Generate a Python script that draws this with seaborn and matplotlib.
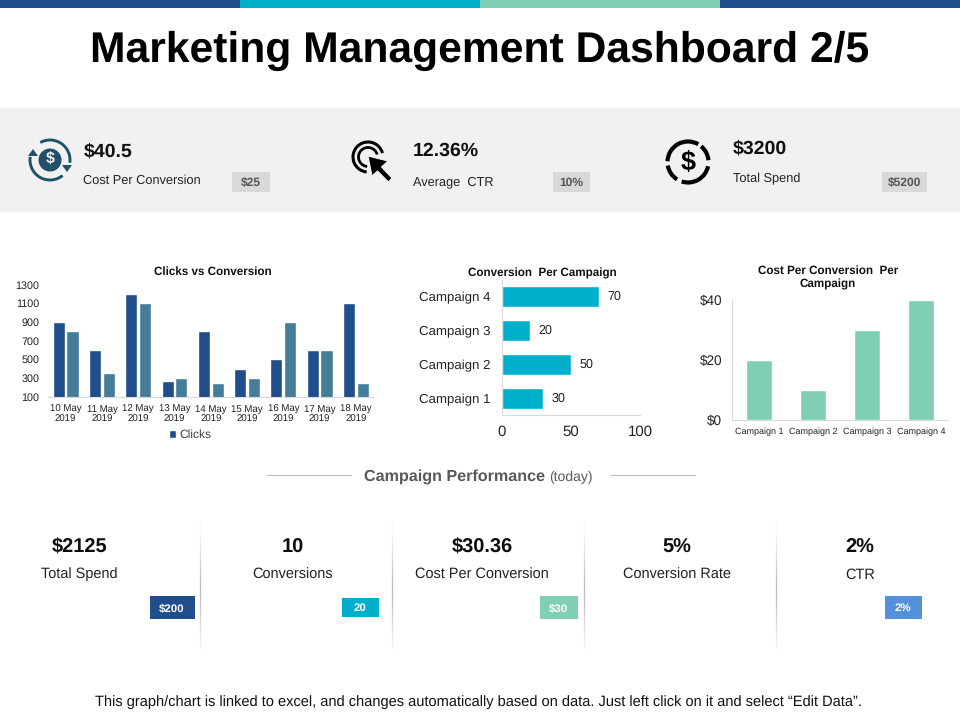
import matplotlib
matplotlib.use("Agg")
import matplotlib.pyplot as plt
import seaborn as sns
import pandas as pd
import numpy as np
from matplotlib.patches import Rectangle, Circle, Arc, Polygon
from matplotlib.collections import LineCollection

# ---------- data ----------
dates = ["10 May\n2019", "11 May\n2019", "12 May\n2019", "13 May\n2019", "14 May\n2019",
         "15 May\n2019", "16 May\n2019", "17 May\n2019", "18 May\n2019"]
clicks = [900, 600, 1200, 270, 800, 400, 500, 600, 1100]
conversions = [800, 350, 1100, 300, 250, 300, 900, 600, 250]
clicks_ticks = [100, 300, 500, 700, 900, 1100, 1300]

campaigns_h = ["Campaign 4", "Campaign 3", "Campaign 2", "Campaign 1"]
conversion_per_campaign = [70, 20, 50, 30]

campaigns_v = ["Campaign 1", "Campaign 2", "Campaign 3", "Campaign 4"]
cost_per_campaign = [20, 10, 30, 40]

kpi_values = ["$40.5", "12.36%", "$3200"]
kpi_labels = ["Cost Per Conversion", "Average  CTR", "Total Spend"]
kpi_badges = ["$25", "10%", "$5200"]

perf_values = ["$2125", "10", "$30.36", "5%", "2%"]
perf_labels = ["Total Spend", "Conversions", "Cost Per Conversion", "Conversion Rate", "CTR"]
perf_badges = ["$200", "20", "$30", "2%"]

# ---------- style ----------
NAVY, TEAL, MINT, STEEL, BLUE = "#1F4E8A", "#00B0CB", "#7FCFB4", "#457C9A", "#5590D9"
ICON = "#22506A"
sns.set_theme(style="white")
plt.rcParams["font.family"] = ["Liberation Sans", "DejaVu Sans"]
plt.rcParams["text.hinting"] = "no_hinting"
plt.rcParams["text.hinting_factor"] = 8
AXC = "#D9D9D9"

fig = plt.figure(figsize=(9.6, 7.2), dpi=100, facecolor="white")

def axes_px(l, t, r, b):
    return fig.add_axes([l / 960, 1 - b / 720, (r - l) / 960, (b - t) / 720], facecolor="none")

def px(size):
    return size * 0.72

# full-figure layer in pixel coordinates
bg = fig.add_axes([0, 0, 1, 1], zorder=0)
bg.set_xlim(0, 960); bg.set_ylim(720, 0); bg.axis("off")

for x0, c in zip([0, 240, 480, 720], [NAVY, TEAL, MINT, NAVY]):
    bg.add_patch(Rectangle((x0, 0), 240, 8, fc=c, ec="none"))
bg.add_patch(Rectangle((0, 108), 960, 104, fc="#F1F1F1", ec="none"))

bg.text(480, 51, "Marketing Management Dashboard 2/5", ha="center", va="center",
        fontsize=px(42.6), fontweight="bold", color="black")

# KPI strip
kpi_x = [84, 413, 733]
kpi_vy = [152, 151, 149]
kpi_ly = [181, 182, 179]
badge_box = [(232, 270), (553, 590), (882, 927)]
for i in range(3):
    bg.text(kpi_x[i], kpi_vy[i], kpi_values[i], ha="left", va="center",
            fontsize=px(19.5), fontweight="bold", color="#111111")
    bg.text(kpi_x[i] - (1 if i == 0 else 0), kpi_ly[i], kpi_labels[i], ha="left", va="center",
            fontsize=px(12.8), color="#222222")
    l, r = badge_box[i]
    bg.add_patch(Rectangle((l, 172), r - l, 20, fc="#D9D9D9", ec="none"))
    bg.text((l + r) / 2, 183, kpi_badges[i], ha="center", va="center",
            fontsize=px(12), fontweight="bold", color="#555555")

# icon 1: dollar coin with circular arrows
bg.add_patch(Circle((50, 160), 11.5, fc=ICON, ec="none"))
bg.text(50, 160, "$", ha="center", va="center", fontsize=px(16), fontweight="bold", color="#F1F1F1")
bg.add_patch(Arc((50, 160), 40, 40, theta1=241, theta2=368, lw=2.1, color=ICON))
bg.add_patch(Arc((50, 160), 40, 40, theta1=51, theta2=189, lw=2.1, color=ICON))
bg.add_patch(Polygon([[33, 149], [28, 156], [38, 156]], fc=ICON, ec="none"))
bg.add_patch(Polygon([[67, 172], [62, 165], [72, 165]], fc=ICON, ec="none"))

# icon 2: click cursor
bg.add_patch(Arc((368, 157), 30, 30, theta1=95, theta2=345, lw=2.2, color="black"))
bg.add_patch(Arc((368, 157), 19, 19, theta1=95, theta2=345, lw=2.0, color="black"))
bg.add_patch(Polygon([[368, 156], [388, 161], [381.5, 167], [392, 178], [388.5, 182],
                      [377.5, 171], [372, 176]], fc="black", ec="#F1F1F1", lw=0.8, zorder=3))

# icon 3: dashed dollar circle
for t1, t2 in [(310, 355), (12, 108), (122, 170), (182, 300)]:
    bg.add_patch(Arc((688, 162), 41, 41, theta1=t1, theta2=t2, lw=3.0, color="black"))
bg.text(688, 163, "$", ha="center", va="center", fontsize=px(27), fontweight="bold", color="black")

# section header
bg.text(545, 476.5, "Campaign Performance", ha="right", va="center",
        fontsize=px(16.1), fontweight="bold", color="#595959")
bg.text(549, 477, "(today)", ha="left", va="center", fontsize=px(14), color="#595959")
bg.plot([267, 351], [475, 475], color="#BFBFBF", lw=0.8)
bg.plot([610, 695], [475, 475], color="#BFBFBF", lw=0.8)

# bottom performance row
perf_x = [80, 293, 482, 677, 860]
for x, v, lab in zip(perf_x, perf_values, perf_labels):
    bg.text(x, 547.5, v, ha="center", va="center", fontsize=px(20), fontweight="bold", color="#0D0D0D")
    bg.text(x - 1 if x == 80 else x, 574.5, lab, ha="center", va="center", fontsize=px(14.5), color="#222222")

for x in [199.5, 391.5, 583.5, 775.5]:
    ys = np.arange(520, 650, 2)
    segs = [[(x, y), (x, y + 2)] for y in ys]
    alphas = np.clip(1 - np.abs(ys - 590) / 62, 0.03, 1)
    cols = [(0.68, 0.68, 0.68, a) for a in alphas]
    bg.add_collection(LineCollection(segs, colors=cols, linewidths=0.9))

perf_box = [(150, 195, 596, 619), (342, 379, 598, 617), (540, 578, 596, 619), (885, 922, 596, 619)]
for (l, r, t, b), c, s in zip(perf_box, [NAVY, TEAL, MINT, BLUE], perf_badges):
    bg.add_patch(Rectangle((l, t), r - l, b - t, fc=c, ec="none"))
    bg.text((l + r) / 2 - 0.5, (t + b) / 2 + 0.5, s, ha="center", va="center",
            fontsize=px(11.5), fontweight="bold", color="white")

bg.text(478, 702.5, "This graph/chart is linked to excel, and changes automatically based on data. "
                    "Just left click on it and select \u201cEdit Data\u201d.",
        ha="center", va="center", fontsize=px(14.65), color="#111111")

# ---------- chart 1 ----------
ax1 = axes_px(47.5, 284.5, 374, 396.5)
df1 = pd.DataFrame({
    "date": dates * 2,
    "value": clicks + conversions,
    "series": ["Clicks"] * len(dates) + ["Conversion"] * len(dates),
})
sns.barplot(data=df1, x="date", y="value", hue="series", palette=[NAVY, STEEL],
            width=0.76, gap=0.12, saturation=1, ax=ax1, order=dates)
ax1.set_ylim(100, 1300)
ax1.set_yticks(clicks_ticks)
ax1.tick_params(axis="y", labelsize=px(10.8), length=0, pad=6, colors="#222222")
ax1.tick_params(axis="x", labelsize=px(9.7), length=0, pad=6, colors="#222222")
for lab in ax1.get_xticklabels():
    lab.set_linespacing(1.05)
ax1.set_xlabel(""); ax1.set_ylabel("")
for s in ["top", "right", "left"]:
    ax1.spines[s].set_visible(False)
ax1.spines["bottom"].set_color(AXC); ax1.spines["bottom"].set_linewidth(0.8)
h, l = ax1.get_legend_handles_labels()
ax1.legend(h[:1], l[:1], loc="center", bbox_to_anchor=(142.5 / 326.5, -0.345), frameon=False,
           fontsize=px(12), handlelength=0.6, handleheight=0.7, handletextpad=0.25, labelcolor="#404040")
bg.text(213, 271.5, "Clicks vs Conversion", ha="center", va="center", fontsize=px(11.6),
        fontweight="bold", color="#111111")

# ---------- chart 2 ----------
ax2 = axes_px(502, 279.5, 640, 415.3)
df2 = pd.DataFrame({"campaign": campaigns_h, "value": conversion_per_campaign})
sns.barplot(data=df2, y="campaign", x="value", color=TEAL, width=0.62, saturation=1, ax=ax2,
            order=campaigns_h)
ax2.set_xlim(0, 100)
ax2.set_xticks([0, 50, 100])
ax2.tick_params(axis="x", labelsize=px(15), length=0, pad=7, colors="#222222")
ax2.tick_params(axis="y", labelsize=px(13.3), length=0, pad=8, colors="#222222")
ax2.set_xlabel(""); ax2.set_ylabel("")
for s in ["top", "right"]:
    ax2.spines[s].set_visible(False)
for s in ["left", "bottom"]:
    ax2.spines[s].set_color(AXC); ax2.spines[s].set_linewidth(0.8)
ax2.bar_label(ax2.containers[0], padding=6, fontsize=px(12.5), color="#222222")
bg.text(542.5, 273.5, "Conversion  Per Campaign", ha="center", va="center", fontsize=px(11.6),
        fontweight="bold", color="#111111")

# ---------- chart 3 ----------
ax3 = axes_px(732, 300, 948, 420)
df3 = pd.DataFrame({"campaign": campaigns_v, "value": cost_per_campaign})
sns.barplot(data=df3, x="campaign", y="value", color=MINT, width=0.48, saturation=1, ax=ax3,
            order=campaigns_v)
ax3.set_ylim(0, 40)
ax3.set_yticks([0, 20, 40])
ax3.set_yticklabels(["$0", "$20", "$40"])
ax3.tick_params(axis="y", labelsize=px(13.5), length=3, width=0.8, pad=4, labelcolor="#222222", color=AXC)
ax3.tick_params(axis="x", labelsize=px(9), length=0, pad=5.5, labelcolor="#222222", color=AXC)
ax3.set_xticks(np.arange(4), campaigns_v)
ax3.set_xlabel(""); ax3.set_ylabel("")
for s in ["top", "right"]:
    ax3.spines[s].set_visible(False)
for s in ["left", "bottom"]:
    ax3.spines[s].set_color(AXC); ax3.spines[s].set_linewidth(0.8)
bg.text(828, 277.5, "Cost Per Conversion  Per\nCampaign", ha="center", va="center", fontsize=px(11.6),
        fontweight="bold", color="#111111", linespacing=1.25)

fig.savefig("out.png", dpi=100, facecolor="white")
